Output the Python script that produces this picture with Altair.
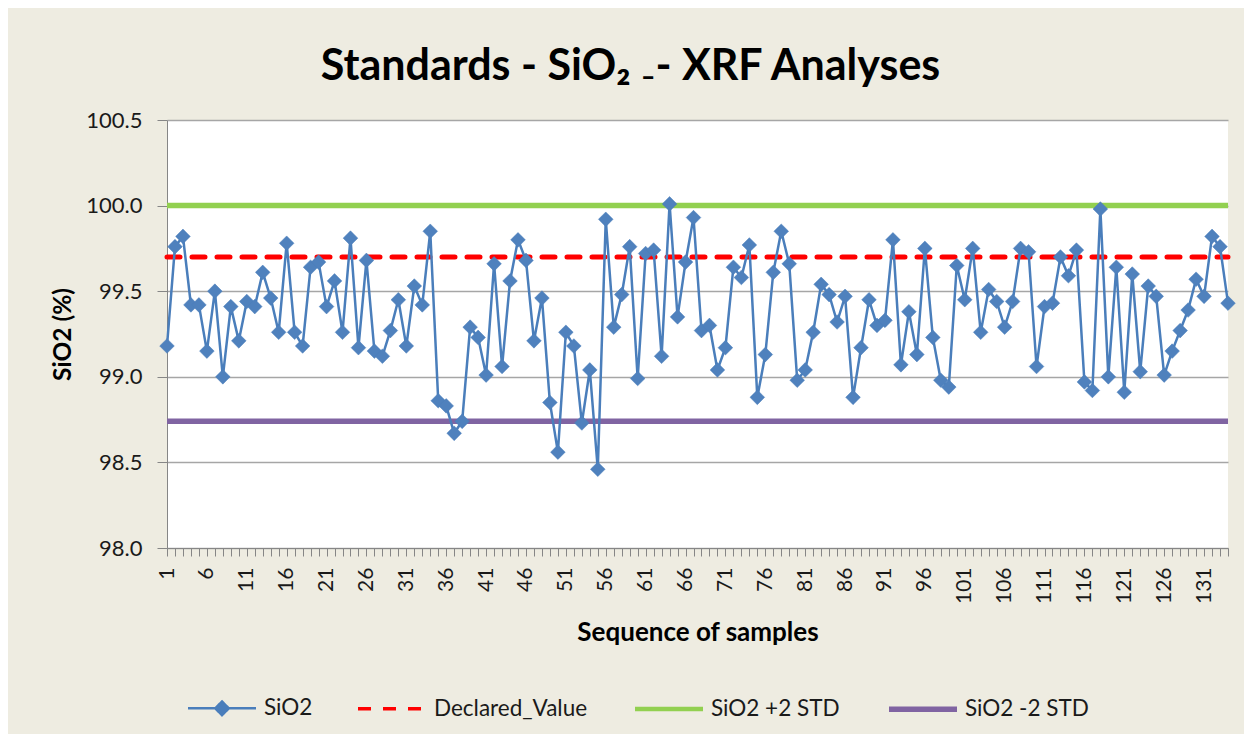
import altair as alt
import pandas as pd

samples = list(range(1, 135))
sio2 = [
    99.18, 99.76, 99.82, 99.42, 99.42, 99.15, 99.50, 99.00, 99.41, 99.21,
    99.44, 99.41, 99.61, 99.46, 99.26, 99.78, 99.26, 99.18, 99.64, 99.67,
    99.41, 99.56, 99.26, 99.81, 99.17, 99.68, 99.15, 99.12, 99.27, 99.45,
    99.18, 99.53, 99.42, 99.85, 98.86, 98.83, 98.67, 98.74, 99.29, 99.23,
    99.01, 99.66, 99.06, 99.56, 99.80, 99.68, 99.21, 99.46, 98.85, 98.56,
    99.26, 99.18, 98.73, 99.04, 98.46, 99.92, 99.29, 99.48, 99.76, 98.99,
    99.72, 99.74, 99.12, 100.01, 99.35, 99.67, 99.93, 99.27, 99.30, 99.04,
    99.17, 99.64, 99.58, 99.77, 98.88, 99.13, 99.61, 99.85, 99.66, 98.98,
    99.04, 99.26, 99.54, 99.48, 99.32, 99.47, 98.88, 99.17, 99.45, 99.30,
    99.33, 99.80, 99.07, 99.38, 99.13, 99.75, 99.23, 98.98, 98.94, 99.65,
    99.45, 99.75, 99.26, 99.51, 99.44, 99.29, 99.44, 99.75, 99.73, 99.06,
    99.41, 99.43, 99.70, 99.59, 99.74, 98.97, 98.92, 99.98, 99.00, 99.64,
    98.91, 99.60, 99.03, 99.53, 99.47, 99.01, 99.15, 99.27, 99.39, 99.57,
    99.47, 99.82, 99.76, 99.43,
]
declared_value = 99.70
plus_2std = 100.00
minus_2std = 98.74

series_names = ["SiO2", "Declared_Value", "SiO2 +2 STD", "SiO2 -2 STD"]
series_colors = ["#4A7EBB", "#FF0000", "#92D050", "#8064A2"]
y_ticks = [98.0, 98.5, 99.0, 99.5, 100.0, 100.5]

rows = []
for s, v in zip(samples, sio2):
    rows.append({"sample": s, "value": v, "series": "SiO2"})
for name, c in [("Declared_Value", declared_value), ("SiO2 +2 STD", plus_2std), ("SiO2 -2 STD", minus_2std)]:
    for s in samples:
        rows.append({"sample": s, "value": c, "series": name})
df = pd.DataFrame(rows)

FONT = "Lato"

# legend symbol shapes: a line, plus a (stroke-filled) diamond for the SiO2 series
diamond = "".join(
    f"M0,-{r}L{r},0L0,{r}L-{r},0Z" for r in ["0.20", "0.165", "0.13", "0.095", "0.06", "0.025"]
)
legend_shapes = ["M-1,0H1" + diamond, "M-1,0H1", "M-1,0H1", "M-1,0H1"]
legend_dashes = [[1, 0], [13, 12], [1, 0], [1, 0]]
legend_widths = [2.5, 5.5, 5.5, 5.5]

legend = alt.Legend(
    title=None,
    orient="none",
    legendX=18,
    legendY=552,
    direction="horizontal",
    columns=4,
    symbolSize=4624,
    labelFont=FONT,
    labelFontSize=22.5,
    labelColor="#1a1a1a",
    labelOffset=5,
    columnPadding=38,
    padding=0,
    symbolOpacity=1,
)

x_enc = alt.X(
    "sample:Q",
    scale=alt.Scale(domain=[1, 134], nice=False, zero=False),
    axis=alt.Axis(
        title="Sequence of samples",
        values=samples,
        labelExpr="((datum.value - 1) % 5 === 0) ? datum.label : ''",
        labelAngle=270,
        labelFont=FONT,
        labelFontSize=21,
        labelColor="#1a1a1a",
        labelOverlap=False,
        labelFlush=False,
        labelPadding=11,
        tickSize=8,
        tickColor="#868686",
        domainColor="#868686",
        grid=False,
        titleFont=FONT,
        titleFontSize=26,
        titleFontWeight="bold",
        titleColor="#000000",
        titlePadding=16,
    ),
)
y_enc = alt.Y(
    "value:Q",
    scale=alt.Scale(domain=[98.0, 100.5], nice=False, zero=False),
    axis=alt.Axis(
        title="SiO2 (%)",
        values=y_ticks,
        format=".1f",
        labelFont=FONT,
        labelFontSize=22,
        labelColor="#1a1a1a",
        labelPadding=15,
        tickSize=10,
        tickColor="#868686",
        domainColor="#868686",
        grid=True,
        gridColor="#A6A6A6",
        gridWidth=1.3,
        titleFont=FONT,
        titleFontSize=24.5,
        titleFontWeight="bold",
        titleColor="#000000",
        titlePadding=10,
    ),
)

base = alt.Chart(df)

plus_layer = base.transform_filter(alt.datum.series == "SiO2 +2 STD").mark_line(
    strokeWidth=5.5, color=series_colors[2]
).encode(x=x_enc, y=y_enc)

minus_layer = base.transform_filter(alt.datum.series == "SiO2 -2 STD").mark_line(
    strokeWidth=5.5, color=series_colors[3]
).encode(x=x_enc, y=y_enc)

declared_layer = base.transform_filter(alt.datum.series == "Declared_Value").mark_line(
    strokeWidth=5, strokeDash=[13, 12], strokeCap="round", color=series_colors[1]
).encode(x=x_enc, y=y_enc)

sio2_line = base.transform_filter(alt.datum.series == "SiO2").mark_line(
    strokeWidth=2.5, color=series_colors[0]
).encode(x=x_enc, y=y_enc)

sio2_points = base.transform_filter(alt.datum.series == "SiO2").mark_point(
    shape="diamond", filled=True, size=215, opacity=1, fill="#4F81BD", stroke="#4A7EBB", strokeWidth=0.5
).encode(x=x_enc, y=y_enc)

# legend-only layer (no rows drawn): carries the merged series legend
legend_layer = base.transform_filter(alt.datum.sample < 0).mark_point(filled=False, opacity=1).encode(
    x=x_enc,
    y=y_enc,
    color=alt.Color("series:N", scale=alt.Scale(domain=series_names, range=series_colors), legend=legend),
    shape=alt.Shape("series:N", scale=alt.Scale(domain=series_names, range=legend_shapes), legend=legend),
    strokeDash=alt.StrokeDash("series:N", scale=alt.Scale(domain=series_names, range=legend_dashes), legend=legend),
    strokeWidth=alt.StrokeWidth("series:N", scale=alt.Scale(domain=series_names, range=legend_widths), legend=legend),
)

chart = alt.layer(plus_layer, minus_layer, declared_layer, sio2_line, sio2_points, legend_layer).properties(
    width=1061,
    height=428,
    autosize=alt.AutoSizeParams(type="none"),
    padding={"left": 159, "top": 112, "right": 16, "bottom": 186},
    background="#EEECE1",
    title=alt.TitleParams(
        text="Standards - SiO₂ ₋- XRF Analyses",
        font=FONT,
        fontSize=43,
        fontWeight="bold",
        color="#000000",
        anchor="middle",
        dx=-67,
        dy=54,
        offset=40,
        baseline="alphabetic",
    ),
).configure_view(fill="white", strokeWidth=0)

chart.save("out.html", embed_options={"renderer": "svg", "actions": False})
